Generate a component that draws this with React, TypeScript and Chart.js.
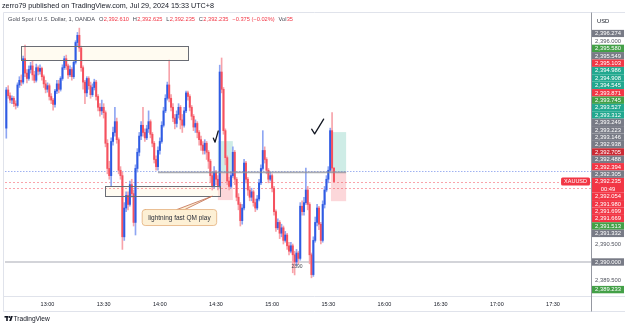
import React, { useEffect, useRef } from "react";
import { Chart, registerables } from "chart.js";

Chart.register(...registerables);

const FONT = '"Liberation Sans", Arial, sans-serif';

// 1-minute candles, first one at 12:38
const START_MINUTE = 12 * 60 + 38;

const opens = [
  2393.72, 2394.78, 2394.62, 2394.50, 2394.55, 2394.40, 2394.35, 2394.92, 2395.05, 2395.00,
  2395.65, 2395.25, 2395.10, 2395.35, 2395.45, 2395.20, 2395.05, 2395.40, 2395.30, 2395.38,
  2395.15, 2394.95, 2394.80, 2394.90, 2394.60, 2394.50, 2394.38, 2394.75, 2394.95, 2394.80,
  2395.10, 2395.40, 2395.65, 2395.45, 2395.20, 2395.35, 2395.15, 2395.55, 2396.10, 2396.30,
  2395.95, 2395.40, 2395.00, 2394.70, 2395.10, 2394.90, 2394.65, 2394.85, 2395.00, 2394.60,
  2394.30, 2394.20, 2394.30, 2394.15, 2393.30, 2392.60, 2392.40, 2393.35, 2393.60, 2393.90,
  2393.40, 2392.55, 2392.40, 2390.70, 2391.50, 2391.85, 2391.60, 2392.15, 2391.90, 2391.10,
  2392.60, 2393.05, 2393.50, 2393.80, 2393.60, 2393.45, 2393.70, 2393.90, 2393.55, 2393.30,
  2392.85, 2392.65, 2393.10, 2393.35, 2393.80, 2394.20, 2394.55, 2394.92, 2394.55, 2394.30,
  2394.00, 2393.85, 2394.10, 2394.30, 2393.95, 2393.80, 2394.20, 2394.70, 2394.60, 2394.30,
  2394.05, 2393.75, 2393.85, 2393.60, 2393.40, 2393.25, 2393.10, 2393.30, 2393.05, 2392.80,
  2392.40, 2392.10, 2392.50, 2392.30, 2392.10, 2395.28, 2394.80, 2393.65, 2392.90, 2392.25,
  2392.10, 2392.40, 2393.05, 2392.30, 2391.80, 2391.60, 2391.15, 2391.50, 2392.75, 2392.30,
  2392.00, 2391.80, 2391.95, 2391.65, 2391.50, 2391.75, 2392.20, 2392.60, 2393.10, 2392.85,
  2392.55, 2392.30, 2392.40, 2392.05, 2391.40, 2390.95, 2391.10, 2390.80, 2390.95, 2390.60,
  2390.75, 2390.45, 2390.30, 2390.45, 2390.20, 2390.00, 2390.25, 2390.10, 2391.55, 2391.40,
  2391.65, 2392.00, 2391.60, 2390.20, 2389.65, 2390.60, 2391.10, 2391.50, 2391.05, 2390.60,
  2391.60, 2392.00, 2392.30, 2392.55, 2393.65, 2392.61,
];

const highs = [
  2394.85, 2394.90, 2394.70, 2394.62, 2394.60, 2394.48, 2394.98, 2395.15, 2395.20, 2395.72,
  2396.03, 2395.35, 2395.45, 2395.55, 2395.58, 2395.30, 2395.50, 2395.45, 2395.48, 2395.42,
  2395.20, 2395.05, 2394.98, 2394.95, 2394.68, 2394.55, 2394.80, 2395.05, 2395.05, 2395.15,
  2395.48, 2395.72, 2395.75, 2395.50, 2395.45, 2395.40, 2395.60, 2396.15, 2396.38, 2396.50,
  2396.00, 2395.45, 2395.05, 2395.15, 2395.15, 2395.00, 2394.95, 2395.08, 2395.05, 2394.65,
  2394.40, 2394.50, 2394.40, 2394.20, 2393.40, 2392.80, 2393.45, 2393.75, 2394.30, 2394.00,
  2393.45, 2392.65, 2392.50, 2391.65, 2391.95, 2391.95, 2392.25, 2392.30, 2392.00, 2392.70,
  2393.15, 2393.60, 2393.90, 2394.30, 2393.70, 2393.80, 2394.20, 2393.95, 2393.60, 2393.35,
  2392.95, 2393.20, 2393.45, 2393.90, 2394.30, 2394.65, 2395.00, 2395.61, 2394.65, 2394.40,
  2394.10, 2394.20, 2394.40, 2394.35, 2394.10, 2394.30, 2394.75, 2394.75, 2394.65, 2394.35,
  2394.10, 2393.95, 2393.90, 2393.65, 2393.50, 2393.35, 2393.40, 2393.35, 2393.10, 2392.85,
  2392.50, 2392.65, 2392.55, 2392.40, 2395.47, 2395.67, 2394.85, 2393.70, 2392.95, 2392.35,
  2392.50, 2393.20, 2393.10, 2392.35, 2391.90, 2391.65, 2391.60, 2392.85, 2392.80, 2392.35,
  2392.10, 2392.05, 2392.00, 2391.75, 2391.85, 2392.30, 2392.70, 2393.65, 2393.20, 2392.90,
  2392.60, 2392.50, 2392.45, 2392.10, 2391.45, 2391.20, 2391.15, 2391.05, 2391.00, 2390.85,
  2390.80, 2390.55, 2390.55, 2390.50, 2390.30, 2390.35, 2390.30, 2391.65, 2391.70, 2391.80,
  2392.61, 2392.10, 2391.65, 2390.25, 2390.70, 2391.25, 2391.60, 2391.55, 2391.10, 2391.70,
  2392.10, 2392.40, 2392.65, 2393.72, 2394.15, 2392.625,
];

const lows = [
  2393.44, 2394.55, 2394.42, 2394.40, 2394.32, 2394.25, 2394.30, 2394.85, 2394.90, 2394.95,
  2395.15, 2394.98, 2395.05, 2395.25, 2395.05, 2394.98, 2395.00, 2395.20, 2395.22, 2395.05,
  2394.85, 2394.70, 2394.72, 2394.50, 2394.40, 2394.22, 2394.30, 2394.68, 2394.70, 2394.75,
  2395.05, 2395.35, 2395.35, 2395.10, 2395.15, 2395.05, 2395.10, 2395.50, 2396.00, 2395.85,
  2395.30, 2394.80, 2394.40, 2394.60, 2394.80, 2394.55, 2394.60, 2394.78, 2394.50, 2394.20,
  2394.05, 2394.10, 2394.00, 2393.20, 2392.45, 2392.30, 2392.10, 2393.25, 2393.50, 2393.30,
  2392.45, 2392.30, 2390.35, 2390.60, 2391.40, 2391.45, 2391.55, 2391.80, 2391.00, 2390.75,
  2392.50, 2392.95, 2393.40, 2393.50, 2393.35, 2393.40, 2393.60, 2393.45, 2393.20, 2392.75,
  2392.55, 2392.55, 2393.00, 2393.30, 2393.75, 2394.15, 2394.50, 2394.45, 2394.20, 2393.90,
  2393.70, 2393.75, 2394.00, 2393.70, 2393.60, 2393.75, 2394.15, 2394.50, 2394.20, 2393.95,
  2393.65, 2393.60, 2393.45, 2393.25, 2393.10, 2393.00, 2393.00, 2392.85, 2392.60, 2392.20,
  2392.00, 2392.05, 2392.15, 2392.00, 2392.05, 2394.70, 2393.55, 2392.70, 2392.15, 2392.00,
  2392.05, 2392.35, 2392.15, 2391.70, 2391.45, 2391.00, 2391.05, 2391.45, 2392.20, 2391.85,
  2391.70, 2391.70, 2391.55, 2391.40, 2391.45, 2391.70, 2392.15, 2392.55, 2392.75, 2392.45,
  2392.20, 2392.25, 2391.95, 2391.30, 2390.85, 2390.90, 2390.65, 2390.70, 2390.50, 2390.55,
  2390.35, 2390.20, 2390.25, 2389.70, 2389.64, 2389.90, 2389.95, 2390.05, 2391.30, 2391.30,
  2391.60, 2391.45, 2389.95, 2389.56, 2389.60, 2390.55, 2391.00, 2390.90, 2390.50, 2390.55,
  2391.50, 2391.95, 2392.20, 2392.50, 2392.50, 2392.235,
];

const closes = [
  2394.78, 2394.62, 2394.50, 2394.55, 2394.40, 2394.35, 2394.92, 2395.05, 2395.00, 2395.65,
  2395.25, 2395.10, 2395.35, 2395.45, 2395.20, 2395.05, 2395.40, 2395.30, 2395.38, 2395.15,
  2394.95, 2394.80, 2394.90, 2394.60, 2394.50, 2394.38, 2394.75, 2394.95, 2394.80, 2395.10,
  2395.40, 2395.65, 2395.45, 2395.20, 2395.35, 2395.15, 2395.55, 2396.10, 2396.30, 2395.95,
  2395.40, 2395.00, 2394.70, 2395.10, 2394.90, 2394.65, 2394.85, 2395.00, 2394.60, 2394.30,
  2394.20, 2394.30, 2394.15, 2393.30, 2392.60, 2392.40, 2393.35, 2393.60, 2393.90, 2393.40,
  2392.55, 2392.40, 2390.70, 2391.50, 2391.85, 2391.60, 2392.15, 2391.90, 2391.10, 2392.60,
  2393.05, 2393.50, 2393.80, 2393.60, 2393.45, 2393.70, 2393.90, 2393.55, 2393.30, 2392.85,
  2392.65, 2393.10, 2393.35, 2393.80, 2394.20, 2394.55, 2394.92, 2394.55, 2394.30, 2394.00,
  2393.85, 2394.10, 2394.30, 2393.95, 2393.80, 2394.20, 2394.70, 2394.60, 2394.30, 2394.05,
  2393.75, 2393.85, 2393.60, 2393.40, 2393.25, 2393.10, 2393.30, 2393.05, 2392.80, 2392.40,
  2392.10, 2392.50, 2392.30, 2392.10, 2395.28, 2394.80, 2393.65, 2392.90, 2392.25, 2392.10,
  2392.40, 2393.05, 2392.30, 2391.80, 2391.60, 2391.15, 2391.50, 2392.75, 2392.30, 2392.00,
  2391.80, 2391.95, 2391.65, 2391.50, 2391.75, 2392.20, 2392.60, 2393.10, 2392.85, 2392.55,
  2392.30, 2392.40, 2392.05, 2391.40, 2390.95, 2391.10, 2390.80, 2390.95, 2390.60, 2390.75,
  2390.45, 2390.30, 2390.45, 2390.20, 2390.00, 2390.25, 2390.10, 2391.55, 2391.40, 2391.65,
  2392.00, 2391.60, 2390.20, 2389.65, 2390.60, 2391.10, 2391.50, 2391.05, 2390.60, 2391.60,
  2392.00, 2392.30, 2392.55, 2393.65, 2392.61, 2392.235,
];

const times = closes.map((_, i) => START_MINUTE + i);

// visible range
const X_MIN = 757.3;
const X_MAX = 1070.3;
const Y_MIN = 2389.055;
const Y_MAX = 2396.92;

// price-scale labels (top to bottom)
const LAST_PRICE = 2392.235;
const LAST_COUNTDOWN = "00:49";
const labelPrices = [
  2396.274, 2396.0, 2395.58, 2395.549, 2395.103, 2394.986, 2394.908, 2394.545, 2393.871,
  2393.745, 2393.527, 2393.312, 2393.249, 2393.223, 2393.146, 2392.938, 2392.705, 2392.488,
  2392.394, 2392.305, 2392.235, 2392.054, 2391.98, 2391.699, 2391.669, 2391.513, 2391.332,
  2390.0, 2389.233,
];
const labelKinds = [
  "grey", "plain", "green", "grey", "red", "teal", "teal", "teal", "red",
  "green", "teal", "teal", "grey", "grey", "grey", "grey", "darkred", "grey",
  "red", "grey", "red", "red", "red", "red", "red", "green", "grey",
  "grey", "green",
];

const headerText = "zerro79 published on TradingView.com, Jul 29, 2024 15:33 UTC+8";
const symbolTitle = "Gold Spot / U.S. Dollar, 1, OANDA";
const legendKeys = ["O", "H", "L", "C", "", "Vol"];
const legendValues = ["2,392.610", "2,392.625", "2,392.235", "2,392.235", "\u22120.375 (\u22120.02%)", "35"];

// drawings (time in minutes of day, price)
const topZone = { t0: 765.8, t1: 855.1, p0: 2396.0, p1: 2395.6 };
const qmZone = { t0: 810.7, t1: 872.1, p0: 2392.11, p1: 2391.83 };
const posStarts = [871.0, 931.4];
const posEnds = [879.0, 939.5];
const posTargets = [2393.36, 2393.61];
const posEntries = [2392.5, 2392.5];
const posStops = [2391.72, 2391.69];
const check1 = [[868.6, 2393.44], [869.5, 2393.33], [871.2, 2393.64]];
const check2 = [[921.1, 2393.69], [922.7, 2393.56], [927.5, 2393.97]];
const calloutText = "lightning fast QM play";
const calloutAt = { t: 850.2, p: 2391.25 };
const calloutTip = { t: 868.0, p: 2391.83 };
const levelLine = { t0: 839.0, t1: 939.5, p: 2392.49 };
const blueDotted = 2392.52;
const lastLines = [2392.235, 2392.054];
const roundLevel = 2390.0;
const roundNote = { t: 913.3, p: 2389.86, text: "2390" };

const UP = "#2f5be3";
const UP_WICK = "#8ea6f3";
const DN = "#f5515e";
const DN_WICK = "#f7a3aa";

const KIND_BG: any = {
  grey: "#787b86",
  plain: "#ffffff",
  green: "#43a047",
  teal: "#22a88f",
  red: "#f23645",
  darkred: "#cc2a34",
};

const fmtPrice = (v: number) =>
  v.toLocaleString("en-US", { minimumFractionDigits: 3, maximumFractionDigits: 3 });
const fmtTime = (v: number) =>
  `${String(Math.floor(v / 60)).padStart(2, "0")}:${String(Math.round(v % 60)).padStart(2, "0")}`;

const LABEL_H = 7.4;

function stackLabels(yScale: any) {
  const n = labelPrices.length;
  const a = labelPrices.indexOf(LAST_PRICE);
  const centers = labelPrices.map((p) => yScale.getPixelForValue(p));
  const tops: number[] = new Array(n);
  const bottoms: number[] = new Array(n);
  tops[a] = centers[a] - LABEL_H / 2;
  bottoms[a] = tops[a] + LABEL_H * 2;
  for (let i = a - 1; i >= 0; i--) {
    const c = Math.min(centers[i], tops[i + 1] - LABEL_H / 2);
    tops[i] = c - LABEL_H / 2;
    bottoms[i] = c + LABEL_H / 2;
  }
  for (let i = a + 1; i < n; i++) {
    const c = Math.max(centers[i], bottoms[i - 1] + LABEL_H / 2);
    tops[i] = c - LABEL_H / 2;
    bottoms[i] = c + LABEL_H / 2;
  }
  return { tops, bottoms, a };
}

const overlay: any = {
  id: "overlay",
  beforeDatasetsDraw(chart: any) {
    const { ctx, chartArea: ar, scales } = chart;
    const X = (t: number) => scales.x.getPixelForValue(t);
    const Y = (p: number) => scales.y.getPixelForValue(p);
    ctx.save();
    ctx.beginPath();
    ctx.rect(ar.left, ar.top, ar.right - ar.left, ar.bottom - ar.top);
    ctx.clip();
    // position tool boxes
    for (let i = 0; i < posStarts.length; i++) {
      const x0 = X(posStarts[i]);
      const x1 = X(posEnds[i]);
      ctx.fillStyle = "rgba(34,168,143,0.22)";
      ctx.fillRect(x0, Y(posTargets[i]), x1 - x0, Y(posEntries[i]) - Y(posTargets[i]));
      ctx.fillStyle = "rgba(242,54,69,0.2)";
      ctx.fillRect(x0, Y(posEntries[i]), x1 - x0, Y(posStops[i]) - Y(posEntries[i]));
    }
    // zone fills
    for (const z of [topZone, qmZone]) {
      ctx.fillStyle = "rgba(255,243,214,0.35)";
      ctx.fillRect(X(z.t0), Y(z.p0), X(z.t1) - X(z.t0), Y(z.p1) - Y(z.p0));
    }
    // full-width price lines
    ctx.lineWidth = 1;
    ctx.strokeStyle = "rgba(120,145,235,0.7)";
    ctx.setLineDash([1.5, 1.5]);
    ctx.beginPath();
    ctx.moveTo(ar.left, Math.round(Y(blueDotted)) + 0.5);
    ctx.lineTo(ar.right, Math.round(Y(blueDotted)) + 0.5);
    ctx.stroke();
    ctx.strokeStyle = "rgba(242,54,69,0.45)";
    ctx.setLineDash([2, 2]);
    for (const p of lastLines) {
      ctx.beginPath();
      ctx.moveTo(ar.left, Math.round(Y(p)) + 0.5);
      ctx.lineTo(ar.right, Math.round(Y(p)) + 0.5);
      ctx.stroke();
    }
    ctx.setLineDash([]);
    ctx.strokeStyle = "#c4c6cc";
    ctx.lineWidth = 1.5;
    ctx.beginPath();
    ctx.moveTo(ar.left, Y(roundLevel));
    ctx.lineTo(ar.right, Y(roundLevel));
    ctx.stroke();
    ctx.restore();
  },
  afterDatasetsDraw(chart: any) {
    const { ctx, chartArea: ar, scales } = chart;
    const X = (t: number) => scales.x.getPixelForValue(t);
    const Y = (p: number) => scales.y.getPixelForValue(p);
    ctx.save();
    ctx.beginPath();
    ctx.rect(ar.left, ar.top, ar.right - ar.left, ar.bottom - ar.top);
    ctx.clip();
    // zone outlines
    ctx.strokeStyle = "#6a6d75";
    ctx.lineWidth = 1;
    for (const z of [topZone, qmZone]) {
      ctx.strokeRect(
        Math.round(X(z.t0)) + 0.5,
        Math.round(Y(z.p0)) + 0.5,
        Math.round(X(z.t1) - X(z.t0)),
        Math.round(Y(z.p1) - Y(z.p0))
      );
    }
    // grey horizontal level
    ctx.strokeStyle = "rgba(140,143,152,0.75)";
    ctx.lineWidth = 1.6;
    ctx.beginPath();
    ctx.moveTo(X(levelLine.t0), Y(levelLine.p));
    ctx.lineTo(X(levelLine.t1), Y(levelLine.p));
    ctx.stroke();
    // check marks
    ctx.strokeStyle = "#131722";
    ctx.lineWidth = 1.3;
    ctx.lineCap = "round";
    ctx.lineJoin = "round";
    for (const ck of [check1, check2]) {
      ctx.beginPath();
      ck.forEach(([t, p], i) => (i ? ctx.lineTo(X(t), Y(p)) : ctx.moveTo(X(t), Y(p))));
      ctx.stroke();
    }
    // callout
    ctx.font = `6.5px ${FONT}`;
    const tw = ctx.measureText(calloutText).width;
    const cx = X(calloutAt.t);
    const cy = Y(calloutAt.p);
    const bw = tw + 12;
    const bh = 16;
    const bx = cx - bw / 2;
    const by = cy - bh / 2;
    ctx.fillStyle = "#fdf0d5";
    ctx.strokeStyle = "#d9a26b";
    ctx.lineWidth = 0.8;
    ctx.beginPath();
    ctx.moveTo(cx - 2, by + 0.5);
    ctx.lineTo(X(calloutTip.t), Y(calloutTip.p));
    ctx.lineTo(cx + 6, by + 0.5);
    ctx.closePath();
    ctx.fill();
    ctx.strokeStyle = "#c0694e";
    ctx.stroke();
    ctx.beginPath();
    (ctx as any).roundRect(bx + 0.5, by + 0.5, bw, bh, 3);
    ctx.fillStyle = "#fdf0d5";
    ctx.fill();
    ctx.strokeStyle = "#e3b07c";
    ctx.stroke();
    ctx.fillStyle = "#2a2e39";
    ctx.textAlign = "center";
    ctx.textBaseline = "middle";
    ctx.fillText(calloutText, cx + 0.5, cy + 1);
    // round number note
    ctx.font = `5px ${FONT}`;
    ctx.fillStyle = "#4a4d57";
    ctx.fillText(roundNote.text, X(roundNote.t), Y(roundNote.p));
    ctx.restore();

    // symbol tag at last price
    ctx.save();
    const ly = Y(LAST_PRICE);
    ctx.font = `5.5px ${FONT}`;
    const tagW = ctx.measureText("XAUUSD").width + 6;
    ctx.fillStyle = "#f23645";
    ctx.beginPath();
    (ctx as any).roundRect(ar.right - tagW - 1, ly - 4, tagW, 8, 1.5);
    ctx.fill();
    ctx.fillStyle = "#ffffff";
    ctx.textAlign = "center";
    ctx.textBaseline = "middle";
    ctx.fillText("XAUUSD", ar.right - 1 - tagW / 2, ly + 0.3);
    ctx.restore();
  },
  afterDraw(chart: any) {
    const { ctx, chartArea: ar, scales, width, height } = chart;
    const yS = scales.y;
    ctx.save();
    // frame
    ctx.strokeStyle = "#e0e3eb";
    ctx.lineWidth = 1;
    ctx.beginPath();
    ctx.moveTo(3.5, 12.5);
    ctx.lineTo(width, 12.5);
    ctx.moveTo(3.5, 12.5);
    ctx.lineTo(3.5, 311.5);
    ctx.moveTo(3.5, Math.round(ar.bottom) + 0.5);
    ctx.lineTo(width, Math.round(ar.bottom) + 0.5);
    ctx.moveTo(3.5, 311.5);
    ctx.lineTo(width, 311.5);
    ctx.stroke();
    ctx.strokeStyle = "#9598a1";
    ctx.beginPath();
    ctx.moveTo(Math.round(ar.right) + 0.5, 12.5);
    ctx.lineTo(Math.round(ar.right) + 0.5, 311.5);
    ctx.stroke();

    // price scale
    const { tops, bottoms, a } = stackLabels(yS);
    const bx0 = Math.round(ar.right) + 1;
    const bw = width - bx0 - 1;
    ctx.font = `5.8px ${FONT}`;
    ctx.textAlign = "center";
    ctx.textBaseline = "middle";
    // plain tick labels not hidden by stacked labels
    ctx.fillStyle = "#50535e";
    for (const tk of yS.ticks) {
      const py = yS.getPixelForValue(tk.value);
      if (py < ar.top + 14 || py > ar.bottom - 3) continue;
      let hidden = false;
      for (let i = 0; i < tops.length; i++) {
        if (py + 3 > tops[i] && py - 3 < bottoms[i]) hidden = true;
      }
      if (!hidden) ctx.fillText(fmtPrice(tk.value), bx0 + bw / 2, py);
    }
    for (let i = 0; i < labelPrices.length; i++) {
      const kind = labelKinds[i];
      ctx.fillStyle = KIND_BG[kind];
      ctx.fillRect(bx0, tops[i], bw, bottoms[i] - tops[i]);
      ctx.fillStyle = kind === "plain" ? "#50535e" : "#ffffff";
      ctx.fillText(fmtPrice(labelPrices[i]), bx0 + bw / 2, tops[i] + LABEL_H / 2 + 0.3);
      if (i === a) ctx.fillText(LAST_COUNTDOWN, bx0 + bw / 2, tops[i] + LABEL_H * 1.5);
    }
    ctx.fillStyle = "#131722";
    ctx.textAlign = "left";
    ctx.fillText("USD", bx0 + 5, 21);

    // header
    ctx.textBaseline = "middle";
    ctx.font = `7.2px ${FONT}`;
    ctx.fillStyle = "#131722";
    ctx.fillText(headerText, 2, 6.5);

    // legend
    ctx.font = `5.7px ${FONT}`;
    let lx = 8;
    const lyy = 19;
    ctx.fillStyle = "#434651";
    ctx.fillText(symbolTitle, lx, lyy);
    lx += ctx.measureText(symbolTitle).width + 4;
    for (let i = 0; i < legendKeys.length; i++) {
      if (legendKeys[i]) {
        ctx.fillStyle = "#434651";
        ctx.fillText(legendKeys[i], lx, lyy);
        lx += ctx.measureText(legendKeys[i]).width + 0.3;
      }
      ctx.fillStyle = "#f23645";
      ctx.fillText(legendValues[i], lx, lyy);
      lx += ctx.measureText(legendValues[i]).width + 3.8;
    }

    // TradingView logo
    ctx.fillStyle = "#131722";
    ctx.fillRect(4.5, 316, 4, 1.6);
    ctx.fillRect(6.2, 316, 1.6, 5);
    ctx.beginPath();
    ctx.arc(9.6, 317, 0.9, 0, Math.PI * 2);
    ctx.fill();
    ctx.beginPath();
    ctx.moveTo(11, 316);
    ctx.lineTo(12.8, 316);
    ctx.lineTo(11.2, 321);
    ctx.lineTo(9.2, 321);
    ctx.closePath();
    ctx.fill();
    ctx.font = `6.6px ${FONT}`;
    ctx.fillText("TradingView", 13.5, 318.8);
    ctx.restore();
  },
};

export default function App() {
  const ref = useRef<HTMLCanvasElement | null>(null);
  useEffect(() => {
    const canvas = ref.current;
    if (!canvas) return;
    const isUp = closes.map((c, i) => c >= opens[i]);
    const chart = new Chart(canvas, {
      type: "bar",
      data: {
        datasets: [
          {
            label: "wicks",
            data: times.map((t, i) => ({ x: t, y: [lows[i], highs[i]] })) as any,
            backgroundColor: isUp.map((u) => (u ? UP_WICK : DN_WICK)),
            barThickness: 1,
            grouped: false,
            order: 2,
          } as any,
          {
            label: "bodies",
            data: times.map((t, i) => ({ x: t, y: [opens[i], closes[i]] })) as any,
            backgroundColor: isUp.map((u) => (u ? UP : DN)),
            barThickness: 1.35,
            minBarLength: 1,
            grouped: false,
            order: 1,
          } as any,
        ],
      },
      options: {
        responsive: false,
        animation: false,
        devicePixelRatio: 1,
        layout: { padding: { left: 5, top: 13, right: 0, bottom: 15 } },
        plugins: { legend: { display: false }, tooltip: { enabled: false } },
        scales: {
          x: {
            type: "linear",
            min: X_MIN,
            max: X_MAX,
            offset: false,
            grid: { display: false, drawTicks: false, offset: false },
            border: { display: false },
            ticks: {
              stepSize: 30,
              includeBounds: false,
              autoSkip: false,
              maxRotation: 0,
              padding: 5,
              color: "#131722",
              font: { size: 5.5, family: FONT },
              callback: (v: any) => fmtTime(Number(v)),
            },
            afterFit: (s: any) => {
              s.height = 15;
            },
          },
          y: {
            type: "linear",
            position: "right",
            min: Y_MIN,
            max: Y_MAX,
            grid: { display: false },
            border: { display: false },
            ticks: { display: false, stepSize: 0.5, includeBounds: false },
            afterFit: (s: any) => {
              s.width = 34;
            },
          },
        },
      } as any,
      plugins: [overlay],
    });
    return () => chart.destroy();
  }, []);
  return (
    <div style={{ position: "absolute", left: 0, top: 0, width: 625, height: 326, background: "#ffffff" }}>
      <canvas ref={ref} width={625} height={326} style={{ display: "block", width: 625, height: 326 }} />
    </div>
  );
}
